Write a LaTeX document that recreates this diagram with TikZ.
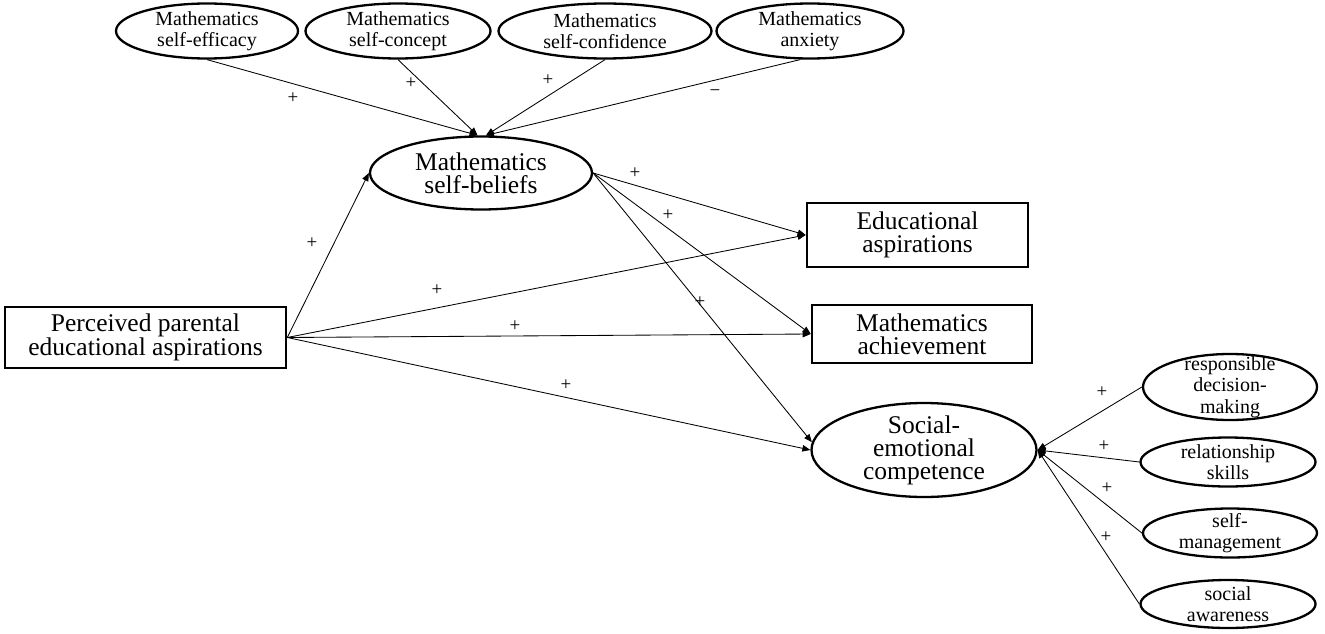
\documentclass[tikz,border=0pt]{standalone}
\usepackage{fontspec}
\setmainfont{Liberation Serif}
\usetikzlibrary{shapes.geometric,arrows.meta}
\tikzset{
  ellbox/.style={draw=black, ellipse, line width=2.3pt, inner sep=0pt},
  rectbox/.style={draw=black, rectangle, line width=2.6pt, inner sep=0pt, align=center,
    font=\fontsize{25.5}{23}\selectfont},
  smalltext/.style={align=center, inner sep=0pt, font=\fontsize{20}{21.5}\selectfont},
  bigtext/.style={align=center, inner sep=0pt, font=\fontsize{25.5}{23}\selectfont},
  conn/.style={draw=black, line width=0.85pt, -{Triangle[length=8pt,width=6.5pt]}},
  sign/.style={inner sep=0pt, font=\fontsize{19}{19}\selectfont}
}
\begin{document}
\begin{tikzpicture}[x=1pt,y=-1pt]
\useasboundingbox (0,0) rectangle (1325,634);

% top ellipses
\node[ellbox, minimum width=182, minimum height=55, label={[smalltext]center:Mathematics\\self-efficacy}] (eff) at (207,31) {};
\node[ellbox, minimum width=185, minimum height=55, label={[smalltext]center:Mathematics\\self-concept}] (con) at (398,31) {};
\node[ellbox, minimum width=213, minimum height=55, label={[smalltext]center:Mathematics\\self-confidence}] (cnf) at (605,31) {};
\node[ellbox, minimum width=187, minimum height=55, label={[smalltext]center:Mathematics\\anxiety}] (anx) at (810,31) {};

% central
\node[ellbox, minimum width=222, minimum height=73, label={[bigtext]center:Mathematics\\self-beliefs}] (sb) at (481,173) {};
\node[rectbox, minimum width=281, minimum height=61] (ppa) at (145.5,337.5) {Perceived parental\\educational aspirations};
\node[rectbox, minimum width=221, minimum height=64] (edu) at (917.5,235) {Educational\\aspirations};
\node[rectbox, minimum width=220, minimum height=58] (ach) at (922,334) {Mathematics\\achievement};
\node[ellbox, minimum width=225, minimum height=94, label={[bigtext]center:Social-\\emotional\\competence}] (se) at (924,450) {};

% right ellipses
\node[ellbox, minimum width=174, minimum height=66, label={[smalltext]center:responsible\\decision-\\making}] (rdm) at (1230,387) {};
\node[ellbox, minimum width=175, minimum height=49, label={[smalltext]center:relationship\\skills}] (rel) at (1228,462) {};
\node[ellbox, minimum width=174, minimum height=49, label={[smalltext]center:self-\\management}] (sm) at (1230,533) {};
\node[ellbox, minimum width=175, minimum height=48, label={[smalltext]center:social\\awareness}] (sa) at (1228,604) {};

% connectors from top
\draw[conn] (eff.south) -- ([xshift=-3.5pt]sb.north);
\draw[conn] (con.south) -- ([xshift=-3.5pt]sb.north);
\draw[conn] (cnf.south) -- ([xshift=5pt]sb.north);
\draw[conn] ([xshift=-10pt]anx.south) -- ([xshift=5pt]sb.north);

% from perceived
\draw[conn] (ppa.east) -- (sb.west);
\draw[conn] (ppa.east) -- (edu.west);
\draw[conn] (ppa.east) -- (ach.west);
\draw[conn] (ppa.east) -- (se.west);

% from self-beliefs
\draw[conn] (sb.east) -- (edu.west);
\draw[conn] (sb.east) -- (ach.west);
\draw[conn] (sb.east) -- (se.176);

% right side
\draw[conn] (rdm.west) -- (se.east);
\draw[conn] (rel.west) -- (se.east);
\draw[conn] (sm.west) -- (se.east);
\draw[conn] (sa.west) -- (se.east);

% signs
\node[sign] (s1) at (293,98) {+};
\node[sign] (s2) at (411,83) {+};
\node[sign] (s3) at (548,80) {+};
\node[sign] (s4) at (715,93) {−};
\node[sign] (s5) at (312,243) {+};
\node[sign] (s6) at (437,290) {+};
\node[sign] (s7) at (515,326) {+};
\node[sign] (s8) at (566,385) {+};
\node[sign] (s9) at (635,173) {+};
\node[sign] (s10) at (668,215) {+};
\node[sign] (s11) at (700,302) {+};
\node[sign] (s12) at (1102,392) {+};
\node[sign] (s13) at (1104,446) {+};
\node[sign] (s14) at (1107,488) {+};
\node[sign] (s15) at (1106,537) {+};
\end{tikzpicture}
\end{document}
